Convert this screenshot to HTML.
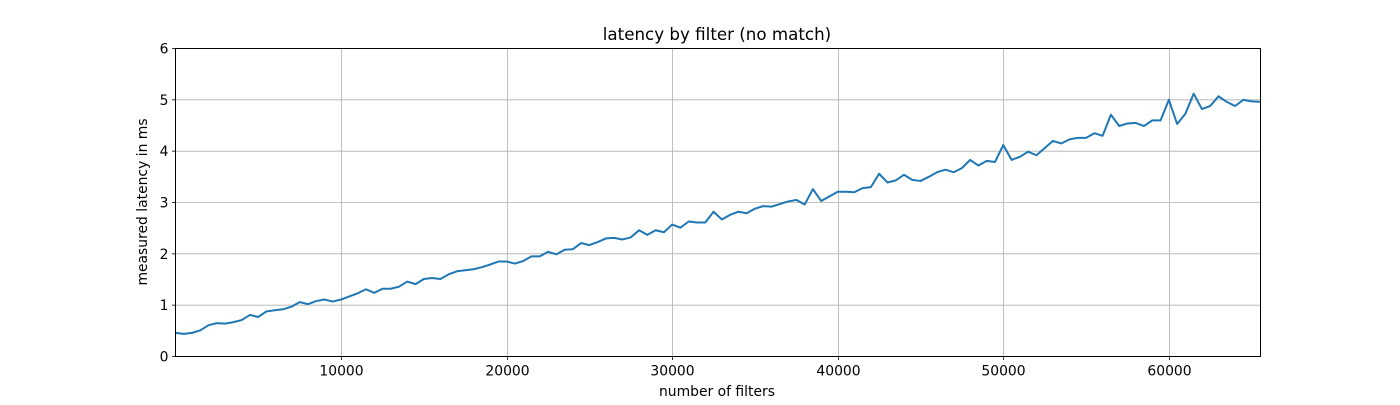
<!DOCTYPE html>
<html><head><meta charset="utf-8"><style>
body{margin:0;background:#fff;}
svg text{font-family:"DejaVu Sans","Liberation Sans",sans-serif;fill:#000;}
</style></head><body>
<svg id="chart" width="1400" height="400" xmlns="http://www.w3.org/2000/svg">
<rect width="1400" height="400" fill="#fff"/>
<g id="grid"></g>
<g id="axes"></g>
<path id="line" fill="none" stroke="#1f77b4" stroke-width="2" stroke-linejoin="round"/>
<rect x="175.5" y="48.5" width="1085" height="308" fill="none" stroke="#000" stroke-width="1"/>
<text x="717" y="40" text-anchor="middle" font-size="16.7">latency by filter (no match)</text>
<text x="717" y="396" text-anchor="middle" font-size="13.9">number of filters</text>
<text transform="translate(147,202) rotate(-90)" text-anchor="middle" font-size="13.9">measured latency in ms</text>
</svg>
<script>
const step = 500;
const latency = [0.46,0.44,0.46,0.51,0.61,0.65,0.64,0.67,0.71,0.81,0.77,0.88,0.90,0.92,0.97,1.06,1.02,1.08,1.11,1.07,
1.11,1.17,1.23,1.31,1.24,1.32,1.32,1.36,1.46,1.41,1.51,1.53,1.51,1.60,1.66,1.68,1.70,1.74,1.79,1.85,
1.85,1.81,1.86,1.95,1.95,2.04,1.99,2.08,2.09,2.21,2.17,2.23,2.30,2.31,2.28,2.32,2.46,2.37,2.46,2.42,
2.57,2.51,2.63,2.61,2.61,2.82,2.67,2.76,2.82,2.79,2.88,2.93,2.92,2.97,3.02,3.05,2.96,3.26,3.03,3.12,
3.21,3.21,3.20,3.28,3.30,3.56,3.39,3.43,3.54,3.44,3.42,3.50,3.59,3.64,3.59,3.67,3.83,3.72,3.81,3.79,
4.12,3.83,3.89,3.99,3.92,4.06,4.20,4.15,4.23,4.26,4.26,4.35,4.30,4.71,4.49,4.54,4.55,4.49,4.60,4.60,
5.00,4.53,4.73,5.12,4.82,4.88,5.07,4.96,4.88,5.00,4.97,4.96];
const xTicks = [10000,20000,30000,40000,50000,60000];
const yTicks = [0,1,2,3,4,5,6];
const X0=175.5, X1=1260.5, Y0=356.5, Y1=48.5, XMAX=65536, YMAX=6;
const sx = v => X0 + v/XMAX*(X1-X0);
const sy = v => Y0 - v/YMAX*(Y0-Y1);
const NS="http://www.w3.org/2000/svg";
const grid=document.getElementById('grid'), axes=document.getElementById('axes');
function mk(tag,at,parent){const e=document.createElementNS(NS,tag);for(const k in at)e.setAttribute(k,at[k]);parent.appendChild(e);return e;}
xTicks.forEach(t=>{
  const x=Math.round(sx(t))+0.5;
  const g=mk('line',{x1:x,x2:x,y1:Y1,y2:Y0,stroke:'#b0b0b0','stroke-width':0.8},grid);
  
  
  const tk=mk('line',{x1:x,x2:x,y1:Y0,y2:Y0+3.5,stroke:'#000','stroke-width':0.8},axes);
  
  
  const tx=mk('text',{x:x,y:Y0+19,'text-anchor':'middle','font-size':13.9},axes);
  
  
  tx.textContent=t;
});
yTicks.forEach(t=>{
  const g=mk('line',{x1:X0,x2:X1,y1:sy(t),y2:sy(t),stroke:'#b0b0b0','stroke-width':0.8},grid);
  
  
  const tk=mk('line',{x1:X0-3.5,x2:X0,y1:sy(t),y2:sy(t),stroke:'#000','stroke-width':0.8},axes);
  
  
  const tx=mk('text',{x:X0-7,y:sy(t)+5,'text-anchor':'end','font-size':13.9},axes);
  
  
  tx.textContent=t;
});
document.getElementById('line').setAttribute('d',latency.map((v,i)=>(i?'L':'M')+sx(i*step).toFixed(2)+','+sy(v).toFixed(2)).join(''));
</script>
</body></html>
